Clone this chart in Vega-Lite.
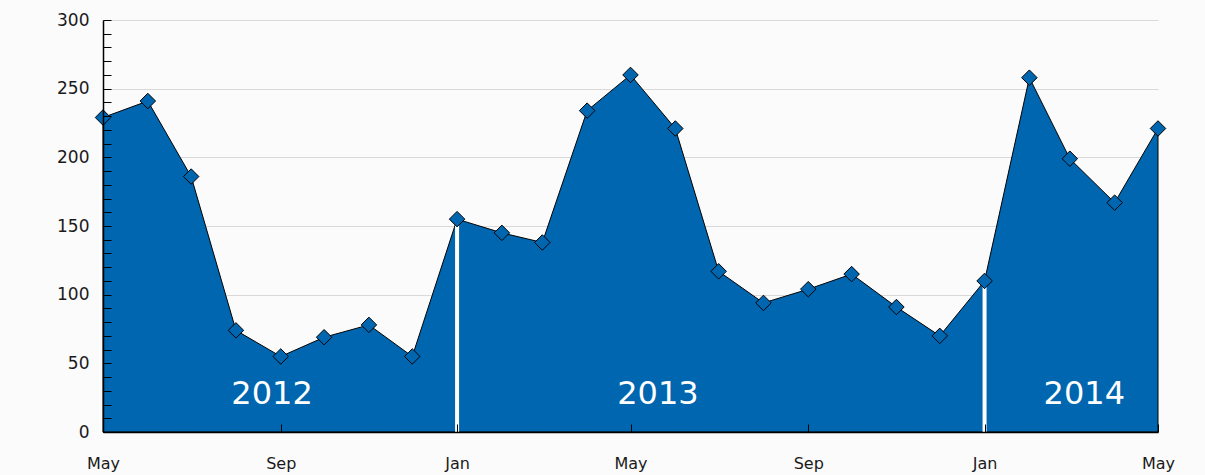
{
  "$schema": "https://vega.github.io/schema/vega-lite/v6.json",
  "width": 1055,
  "height": 412,
  "autosize": {"type": "none"},
  "padding": {"left": 103, "top": 20, "right": 47, "bottom": 43},
  "background": "#fbfbfb",
  "config": {
    "view": {"stroke": null},
    "axis": {"labelFont": "DejaVu Sans", "labelFontSize": 16, "labelColor": "#1a1a1a", "domainColor": "#000", "tickColor": "#000"}
  },
  "datasets": {
    "monthly": [
      {"date": "2012-05-01", "value": 229},
      {"date": "2012-06-01", "value": 241},
      {"date": "2012-07-01", "value": 186},
      {"date": "2012-08-01", "value": 74},
      {"date": "2012-09-01", "value": 55},
      {"date": "2012-10-01", "value": 69},
      {"date": "2012-11-01", "value": 78},
      {"date": "2012-12-01", "value": 55},
      {"date": "2013-01-01", "value": 155},
      {"date": "2013-02-01", "value": 145},
      {"date": "2013-03-01", "value": 138},
      {"date": "2013-04-01", "value": 234},
      {"date": "2013-05-01", "value": 260},
      {"date": "2013-06-01", "value": 221},
      {"date": "2013-07-01", "value": 117},
      {"date": "2013-08-01", "value": 94},
      {"date": "2013-09-01", "value": 104},
      {"date": "2013-10-01", "value": 115},
      {"date": "2013-11-01", "value": 91},
      {"date": "2013-12-01", "value": 70},
      {"date": "2014-01-01", "value": 110},
      {"date": "2014-02-01", "value": 258},
      {"date": "2014-03-01", "value": 199},
      {"date": "2014-04-01", "value": 167},
      {"date": "2014-05-01", "value": 221}
    ],
    "years": [
      {"year": "2012", "date": "2012-08-26", "value": 28},
      {"year": "2013", "date": "2013-05-20", "value": 28},
      {"year": "2014", "date": "2014-03-11", "value": 28}
    ]
  },
  "encoding": {
    "x": {"field": "date", "type": "temporal", "scale": {"type": "utc", "nice": false},
      "axis": {"title": null, "format": "%b", "grid": false, "tickSize": -8, "labelPadding": 31, "labelFlush": false, "domainWidth": 1.5, "zindex": 1,
        "values": [
          {"year": 2012, "month": 5, "date": 1, "utc": true},
          {"year": 2012, "month": 9, "date": 1, "utc": true},
          {"year": 2013, "month": 1, "date": 1, "utc": true},
          {"year": 2013, "month": 5, "date": 1, "utc": true},
          {"year": 2013, "month": 9, "date": 1, "utc": true},
          {"year": 2014, "month": 1, "date": 1, "utc": true},
          {"year": 2014, "month": 5, "date": 1, "utc": true}
        ]}}
  },
  "resolve": {"axis": {"y": "independent"}},
  "layer": [
    {
      "data": {"name": "monthly"},
      "mark": {"type": "area", "color": "#0066b0", "stroke": "#000", "strokeWidth": 1, "opacity": 1},
      "encoding": {
        "y": {"field": "value", "type": "quantitative", "scale": {"domain": [0, 300], "nice": false},
          "axis": {"orient": "left", "values": [50, 100, 150, 200, 250, 300], "grid": true, "gridColor": "#d9d9d9", "gridWidth": 1, "ticks": false, "labels": false, "domain": false, "title": null, "zindex": 0}}
      }
    },
    {
      "data": {"name": "monthly"},
      "transform": [{"filter": "utcmonth(toDate(datum.date)) === 0"}],
      "mark": {"type": "rule", "color": "#ffffff", "strokeWidth": 4},
      "encoding": {
        "y": {"field": "value", "type": "quantitative",
          "axis": {"orient": "left", "grid": false, "ticks": false, "labels": false, "domain": false, "title": null}},
        "y2": {"datum": 0}
      }
    },
    {
      "data": {"name": "monthly"},
      "mark": {"type": "point", "shape": "diamond", "size": 240, "filled": true, "fill": "#0066b0", "stroke": "#000", "strokeWidth": 1, "opacity": 1},
      "encoding": {
        "y": {"field": "value", "type": "quantitative",
          "axis": {"orient": "left", "title": null, "grid": false, "tickSize": -8, "labelPadding": 22, "labelFontSize": 17, "domainWidth": 1.5, "zindex": 1,
            "values": [0, 10, 20, 30, 40, 50, 60, 70, 80, 90, 100, 110, 120, 130, 140, 150, 160, 170, 180, 190, 200, 210, 220, 230, 240, 250, 260, 270, 280, 290, 300],
            "labelExpr": "datum.value % 50 === 0 ? datum.label : ''"}}
      }
    },
    {
      "data": {"name": "years"},
      "mark": {"type": "text", "font": "DejaVu Sans", "fontSize": 32, "color": "#ffffff", "align": "center", "baseline": "middle"},
      "encoding": {
        "y": {"field": "value", "type": "quantitative",
          "axis": {"orient": "left", "grid": false, "ticks": false, "labels": false, "domain": false, "title": null}},
        "text": {"field": "year"}
      }
    }
  ]
}
